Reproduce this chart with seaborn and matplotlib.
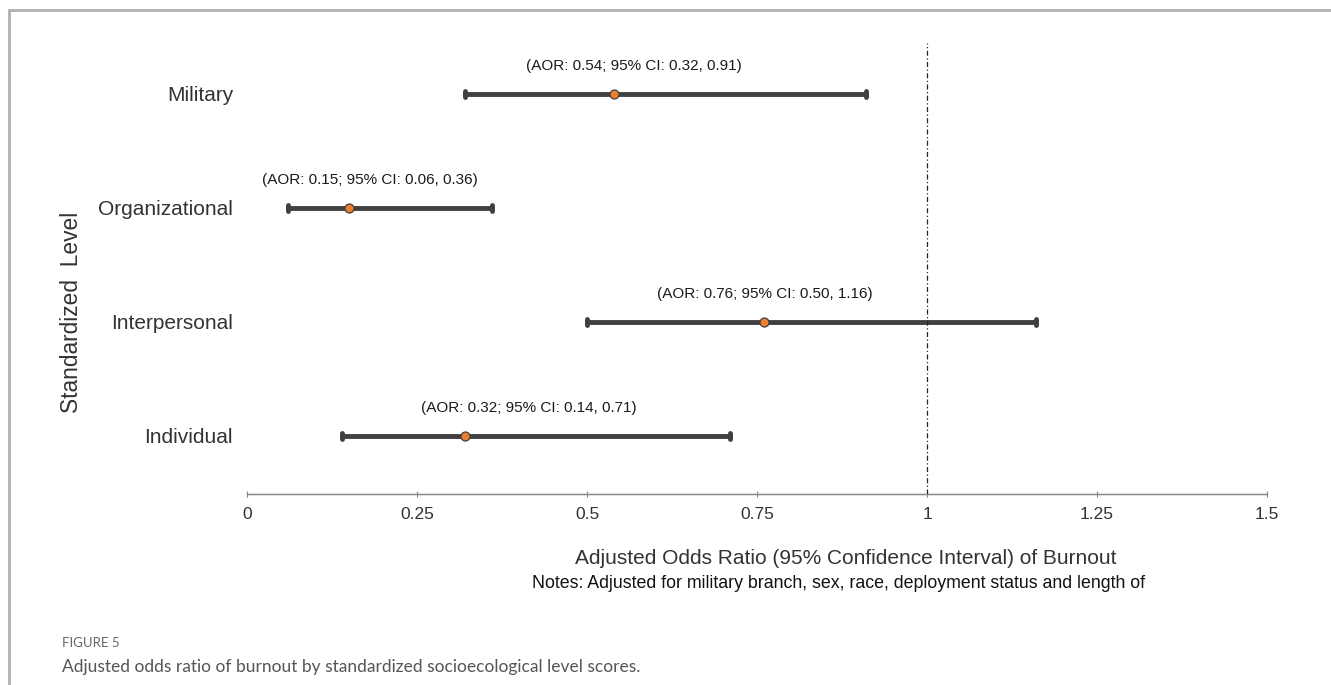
import pandas as pd
import numpy as np
import matplotlib.pyplot as plt
import seaborn as sns
from matplotlib.lines import Line2D

# Values
levels = ['Military', 'Organizational', 'Interpersonal', 'Individual']
aor = [0.54, 0.15, 0.76, 0.32]
ci_low = [0.32, 0.06, 0.50, 0.14]
ci_high = [0.91, 0.36, 1.16, 0.71]
label_x = [0.569, 0.181, 0.762, 0.415]   # where each annotation sits (data units)
x_ticks = [0, 0.25, 0.5, 0.75, 1, 1.25, 1.5]
x_tick_labels = ['0', '0.25', '0.5', '0.75', '1', '1.25', '1.5']

# long table: lower bound, estimate, upper bound per level
rows = []
for lv, a, lo, hi in zip(levels, aor, ci_low, ci_high):
    for v in (lo, a, hi):
        rows.append([lv, v])
df = pd.DataFrame(rows, columns=['Level', 'Value'])

sns.set_style('white')
plt.rcParams['font.family'] = ['Liberation Sans', 'DejaVu Sans']

fig = plt.figure(figsize=(13.31, 6.85), dpi=100)
ax = fig.add_axes([247 / 1331, 1 - 494 / 685, (1267 - 247) / 1331, (494 - 43) / 685])

# CI bars (min..max of the three rows), point = median = AOR
sns.pointplot(data=df, x='Value', y='Level', order=levels, orient='h',
              estimator='median', errorbar=lambda v: (v.min(), v.max()),
              linestyle='none', markers='', capsize=0.05,
              err_kws={'color': '#404040', 'linewidth': 3.5}, ax=ax)

pts = pd.DataFrame({'Level': levels, 'AOR': aor})
sns.scatterplot(data=pts, x='AOR', y='Level', color='#ED7D31', edgecolor='#404040',
                linewidth=0.9, s=42, zorder=5, ax=ax)

for i, (a, lo, hi, lx) in enumerate(zip(aor, ci_low, ci_high, label_x)):
    ax.text(lx, i - 0.245, f'(AOR: {a:.2f}; 95% CI: {lo:.2f}, {hi:.2f})',
            ha='center', va='center', fontsize=11, color='#1a1a1a')

ax.axvline(1, color='#222222', linestyle=(0, (4, 2, 1, 2)), linewidth=0.9)

ax.set_xlim(0, 1.5)
ax.set_ylim(3.509, -0.447)
ax.set_xticks(x_ticks)
ax.set_xticklabels(x_tick_labels)
ax.tick_params(axis='x', bottom=True, direction='inout', length=5, width=0.8,
               color='#888888', labelsize=12.5, labelcolor='#333333', pad=7)
ax.tick_params(axis='y', length=0, labelsize=15, labelcolor='#333333', pad=10)

for s in ['top', 'right', 'left']:
    ax.spines[s].set_visible(False)
ax.spines['bottom'].set_color('#888888')
ax.spines['bottom'].set_linewidth(1.0)
ax.spines['bottom'].set_linestyle((0, (1, 0.5)))

ax.set_xlabel('')
ax.set_ylabel('')
fig.text(72 / 1331, 1 - 312 / 685, 'Standardized  Level', rotation=90,
         ha='center', va='center', fontsize=16.4, color='#333333')
fig.text(846 / 1331, 1 - 558 / 685,
         'Adjusted Odds Ratio (95% Confidence Interval) of Burnout',
         ha='center', va='center', fontsize=15, color='#333333')
fig.text(839 / 1331, 1 - 583 / 685,
         'Notes: Adjusted for military branch, sex, race, deployment status and length of',
         ha='center', va='center', fontsize=12.8, color='#111111')

# caption below the chart
fig.text(62 / 1331, 1 - 643 / 685, 'FIGURE 5', ha='left', va='center',
         fontsize=9.5, color='#666666', family=['Lato', 'DejaVu Sans'])
fig.text(62 / 1331, 1 - 667 / 685,
         'Adjusted odds ratio of burnout by standardized socioecological level scores.',
         ha='left', va='center', fontsize=12.5, color='#555555',
         family=['Lato', 'DejaVu Sans'])

# frame around the figure panel
fig.add_artist(Line2D([9 / 1331, 1], [1 - 10 / 685] * 2, color='#b0b0b0', linewidth=2))
fig.add_artist(Line2D([9 / 1331] * 2, [0, 1 - 10 / 685], color='#b0b0b0', linewidth=2))

fig.savefig('out.png', dpi=100)
